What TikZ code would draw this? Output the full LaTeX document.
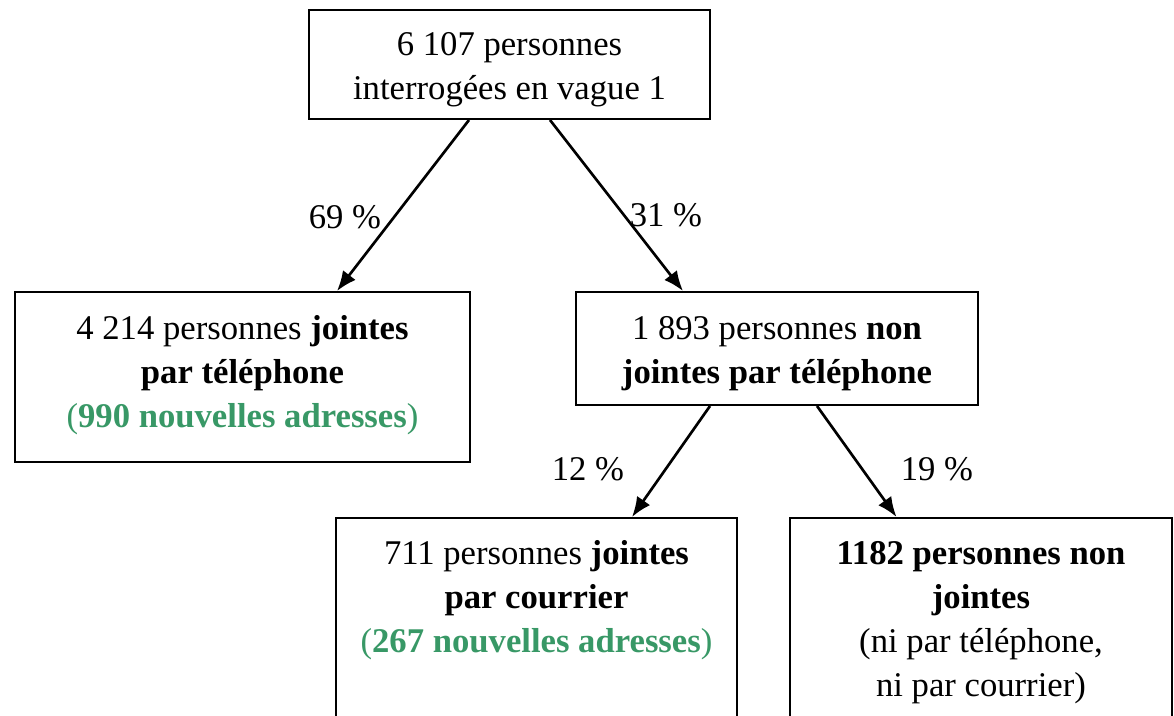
\documentclass[tikz,border=0pt]{standalone}
\usepackage{fontspec}
\setmainfont{Liberation Serif}
\usetikzlibrary{arrows.meta,calc}
\definecolor{adrgreen}{RGB}{56,152,102}
\begin{document}
\begin{tikzpicture}[x=0.75pt,y=-0.75pt,
  box/.style={draw=black,line width=1.5pt,rectangle,inner sep=0pt},
  txt/.style={inner sep=0pt,align=center,font=\fontsize{26}{33}\selectfont},
  arr/.style={line width=2pt,-{Latex[length=15pt,width=12pt]}},
  pct/.style={inner sep=0pt,font=\fontsize{26}{33}\selectfont}]
\useasboundingbox (0,0) rectangle (1174,715);
\clip (0,0) rectangle (1174,715);

\node[box,minimum width=300.75pt,minimum height=81.75pt] (top) at (509.5,64.5) {};
\node[box,minimum width=341.25pt,minimum height=127.5pt] (left) at (242.5,377) {};
\node[box,minimum width=301.5pt,minimum height=84.75pt] (mid) at (777,348.5) {};
\node[box,minimum width=300.75pt,minimum height=181.5pt] (bl) at (536.5,639) {};
\node[box,minimum width=286.5pt,minimum height=181.5pt] (br) at (981,639) {};

\node[txt] (toptext) at (509.5,70)
  {6 107 personnes\\interrogées en vague 1};
\node[txt] (lefttext) at (242.5,375)
  {4 214 personnes \textbf{jointes}\\\textbf{par téléphone}\\
   \textcolor{adrgreen}{(\textbf{990 nouvelles adresses})}};
\node[txt] (midtext) at (777,354)
  {1 893 personnes \textbf{non}\\\textbf{jointes par téléphone}};
\node[txt] (bltext) at (536.5,600)
  {711 personnes \textbf{jointes}\\\textbf{par courrier}\\
   \textcolor{adrgreen}{(\textbf{267 nouvelles adresses})}};
\node[txt] (brtext) at (981,623)
  {\textbf{1182 personnes non}\\\textbf{jointes}\\(ni par téléphone,\\ni par courrier)};

\draw[arr] ($(top.south)+(-40.5,0)$) -- ($(left.north)+(94.5,0)$);
\draw[arr] ($(top.south)+(40.5,0)$) -- ($(mid.north)+(-94,0)$);
\draw[arr] ($(mid.south)+(-67,0)$) -- ($(bl.north)+(95.5,0)$);
\draw[arr] ($(mid.south)+(40,0)$) -- ($(br.north)+(-84.5,0)$);

\node[pct] (p69) at (345,217) {69 \%};
\node[pct] (p31) at (666,215) {31 \%};
\node[pct] (p12) at (588,469) {12 \%};
\node[pct] (p19) at (937,469) {19 \%};
\end{tikzpicture}
\end{document}
